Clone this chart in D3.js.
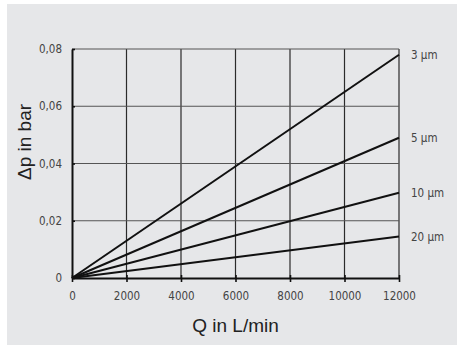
<!DOCTYPE html>
<html>
<head>
<meta charset="utf-8">
<script src="https://cdn.jsdelivr.net/npm/d3@7"></script>
<style>
  body { margin: 0; background: #fff; }
  svg { display: block; }
</style>
</head>
<body>
<script>
// flow rate in L/min, pressure drop in bar per filter grade
var flow = [0, 12000];
var grades = ['3 µm', '5 µm', '10 µm', '20 µm'];
var drop3 = [0, 0.078];
var drop5 = [0, 0.049];
var drop10 = [0, 0.0298];
var drop20 = [0, 0.0145];
var xTicks = [0, 2000, 4000, 6000, 8000, 10000, 12000];
var yTicks = [0, 0.02, 0.04, 0.06, 0.08];
var yTickLabels = ['0', '0,02', '0,04', '0,06', '0,08'];

var seriesList = [drop3, drop5, drop10, drop20];

var W = 457, H = 345;
var svg = d3.select('body').append('svg')
  .attr('width', W)
  .attr('height', H);

svg.append('rect')
  .attr('x', 7).attr('y', 4)
  .attr('width', W - 7).attr('height', H - 4)
  .attr('fill', '#e6e7e9');

var x = d3.scaleLinear().domain([0, 12000]).range([72, 399]);
var y = d3.scaleLinear().domain([0, 0.08]).range([278, 49]);

var font = '"DejaVu Sans Condensed", "Liberation Sans", sans-serif';

// grid
svg.append('g').selectAll('line.v')
  .data(xTicks.slice(1))
  .enter().append('line')
  .attr('x1', function(d){ return x(d); })
  .attr('x2', function(d){ return x(d); })
  .attr('y1', y(0)).attr('y2', y(0.08))
  .attr('stroke', '#2b2b2b')
  .attr('stroke-width', 1.2);

svg.append('g').selectAll('line.h')
  .data(yTicks.slice(1))
  .enter().append('line')
  .attr('y1', function(d){ return y(d); })
  .attr('y2', function(d){ return y(d); })
  .attr('x1', x(0)).attr('x2', x(12000))
  .attr('stroke', '#555')
  .attr('stroke-width', 1.2);

// axes
var xAxis = d3.axisBottom(x).tickValues(xTicks).tickFormat(d3.format('d'))
  .tickSizeInner(4).tickSizeOuter(0).tickPadding(10);
var gx = svg.append('g').attr('transform', 'translate(0,' + y(0) + ')').call(xAxis);
gx.select('.domain').attr('stroke', '#111').attr('stroke-width', 2);
gx.selectAll('.tick line').attr('stroke', '#111').attr('stroke-width', 1.6).attr('y1', -3);
gx.selectAll('.tick text').attr('font-family', font).attr('font-size', 11.5).attr('fill', '#444');

var yAxis = d3.axisLeft(y).tickValues(yTicks)
  .tickFormat(function(d, i){ return yTickLabels[i]; })
  .tickSizeInner(6).tickSizeOuter(0).tickPadding(4);
var gy = svg.append('g').attr('transform', 'translate(' + x(0) + ',0)').call(yAxis);
gy.select('.domain').attr('stroke', '#111').attr('stroke-width', 2);
gy.selectAll('.tick line').attr('stroke', '#111').attr('stroke-width', 1.6).attr('x2', 3);
gy.selectAll('.tick text').attr('font-family', font).attr('font-size', 11.5).attr('fill', '#444');

// series lines
var line = d3.line()
  .x(function(d, i){ return x(flow[i]); })
  .y(function(d){ return y(d); });

svg.append('g').selectAll('path')
  .data(seriesList)
  .enter().append('path')
  .attr('d', line)
  .attr('fill', 'none')
  .attr('stroke', '#111')
  .attr('stroke-width', 2);

svg.append('g').selectAll('text')
  .data(seriesList)
  .enter().append('text')
  .attr('x', x(12000) + 12)
  .attr('y', function(d){ return y(d[1]); })
  .attr('dy', '0.35em')
  .attr('font-family', font)
  .attr('font-size', 11.5)
  .attr('fill', '#444')
  .text(function(d, i){ return grades[i]; });

// axis titles
svg.append('text')
  .attr('x', (x(0) + x(12000)) / 2)
  .attr('y', 332)
  .attr('text-anchor', 'middle')
  .attr('font-family', '"Liberation Sans", Arial, sans-serif')
  .attr('font-size', 19)
  .attr('fill', '#222')
  .text('Q in L/min');

svg.append('text')
  .attr('transform', 'translate(31,142) rotate(-90)')
  .attr('text-anchor', 'middle')
  .attr('font-family', '"Liberation Sans", Arial, sans-serif')
  .attr('font-size', 19)
  .attr('fill', '#222')
  .text('Δp in bar');
</script>
</body>
</html>
